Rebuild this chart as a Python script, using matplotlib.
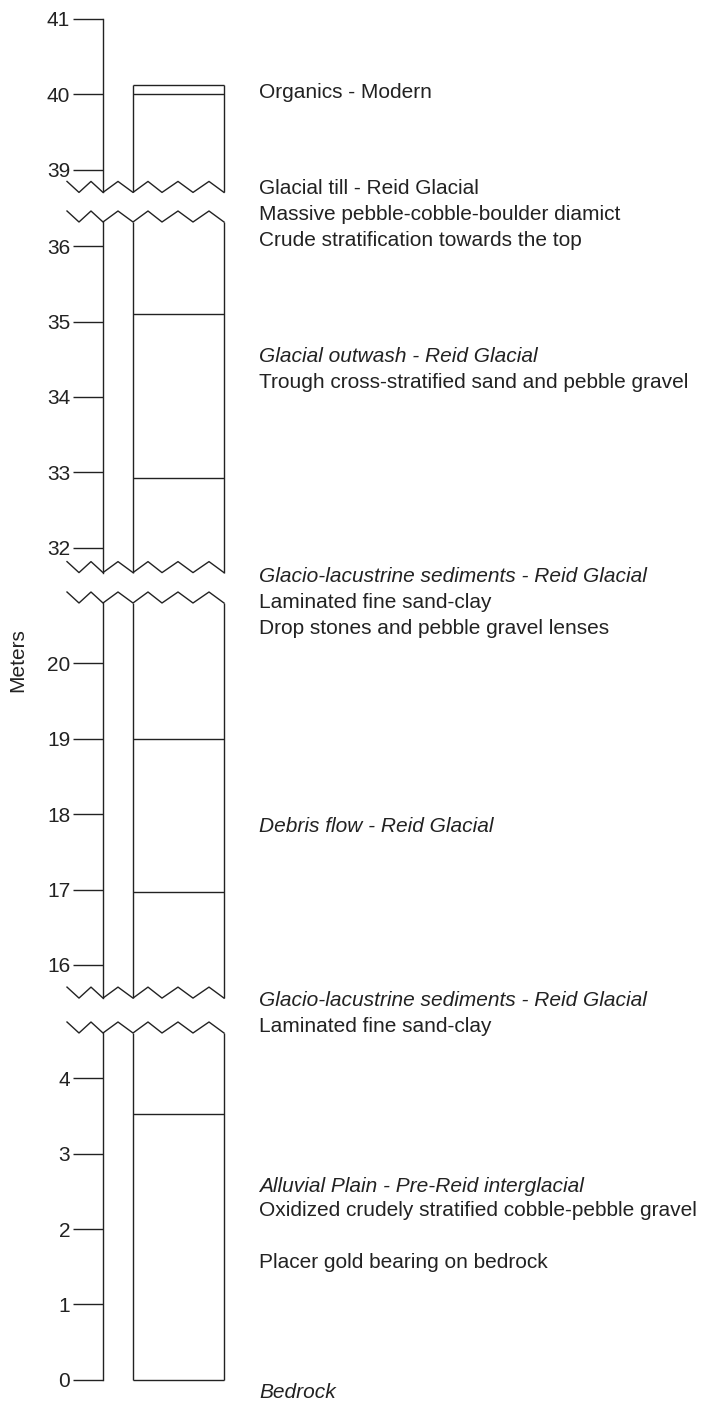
import numpy as np
import matplotlib
matplotlib.use("Agg")
import matplotlib.pyplot as plt

plt.rcParams['font.family'] = ['Liberation Sans', 'DejaVu Sans']

# axis breaks: visible meter ranges (low, high), top to bottom
section_ranges = [(38.70, 41.0), (31.67, 36.32), (15.56, 20.80), (0.0, 4.60)]
section_ticks = [[39, 40, 41], [32, 33, 34, 35, 36], [16, 17, 18, 19, 20], [0, 1, 2, 3, 4]]
# unit contacts drawn inside the column, per section
contacts = [[40.0], [35.1, 32.92], [19.0, 16.97], [3.53]]
column_top = 40.12
column_base = 0.0

# descriptions: (text, italic?)
descriptions = [
    ("Organics - Modern", False),
    ("Glacial till - Reid Glacial", False),
    ("Massive pebble-cobble-boulder diamict", False),
    ("Crude stratification towards the top", False),
    ("Glacial outwash - Reid Glacial", True),
    ("Trough cross-stratified sand and pebble gravel", False),
    ("Glacio-lacustrine sediments - Reid Glacial", True),
    ("Laminated fine sand-clay", False),
    ("Drop stones and pebble gravel lenses", False),
    ("Debris flow - Reid Glacial", True),
    ("Glacio-lacustrine sediments - Reid Glacial", True),
    ("Laminated fine sand-clay", False),
    ("Alluvial Plain - Pre-Reid interglacial", True),
    ("Oxidized crudely stratified cobble-pebble gravel", False),
    ("Placer gold bearing on bedrock", False),
    ("Bedrock", True),
]
# vertical placement of each description line (pixels from top)
desc_y = [92, 188, 214, 240, 356, 382, 577, 603, 628, 826, 1001, 1026, 1187, 1211, 1262, 1393]

W, H = 702, 1405
fig = plt.figure(figsize=(W / 100, H / 100), dpi=100)
ink = '#222222'
lw = 1.0

px_per_m = 75.4
sec_top_px = [19, 222, 603, 1033]
ax_left, ax_right = 103, 224
col_left = (133 - ax_left) / (ax_right - ax_left)

# zigzag break outline in pixels relative to the spine (x) and break line (y)
zz_x = np.array([67, 79, 91, 103, 118, 133, 148, 162, 178, 193, 209, 224]) - ax_left
zz_up = np.array([11, 0] * 6)

for i, (lo, hi) in enumerate(section_ranges):
    top = sec_top_px[i]
    hgt = (hi - lo) * px_per_m
    ax = fig.add_axes([ax_left / W, 1 - (top + hgt) / H, (ax_right - ax_left) / W, hgt / H])
    ax.set_ylim(lo, hi)
    ax.set_xlim(0, 1)
    for s in ['top', 'right', 'bottom']:
        ax.spines[s].set_visible(False)
    ax.spines['left'].set_linewidth(lw)
    ax.spines['left'].set_color(ink)
    ax.set_xticks([])
    ax.set_yticks(section_ticks[i])
    ax.tick_params(axis='y', direction='out', length=21.6, width=lw, color=ink,
                   labelsize=15, labelcolor=ink, pad=2)
    ax.patch.set_visible(False)

    ytr = ax.get_yaxis_transform()
    c_hi = min(hi, column_top)
    c_lo = max(lo, column_base)
    ax.vlines([col_left, 1.0], c_lo, c_hi, colors=ink, lw=lw, transform=ytr, clip_on=False)
    ax.hlines(contacts[i], col_left, 1.0, colors=ink, lw=lw, transform=ytr, clip_on=False)
    if column_top < hi:
        ax.hlines(column_top, col_left, 1.0, colors=ink, lw=lw, transform=ytr, clip_on=False)
    if column_base >= lo and i == len(section_ranges) - 1:
        ax.hlines(column_base, col_left, 1.0, colors=ink, lw=lw, transform=ytr, clip_on=False)

    xs = zz_x / (ax_right - ax_left)
    # break at bottom of this section
    if i < len(section_ranges) - 1:
        ax.plot(xs, zz_up / hgt, color=ink, lw=lw, transform=ax.transAxes, clip_on=False)
    # break at top of this section
    if i > 0:
        ax.plot(xs, 1 + zz_up / hgt, color=ink, lw=lw, transform=ax.transAxes, clip_on=False)

for (txt, it), y in zip(descriptions, desc_y):
    fig.text(259 / W, 1 - y / H, txt, fontsize=15, color=ink, va='center', ha='left',
             style='italic' if it else 'normal')

fig.text(18 / W, 1 - 660 / H, 'Meters', rotation=90, fontsize=15, color=ink,
         va='center', ha='center')

fig.savefig('out.png', dpi=100, facecolor='white')
